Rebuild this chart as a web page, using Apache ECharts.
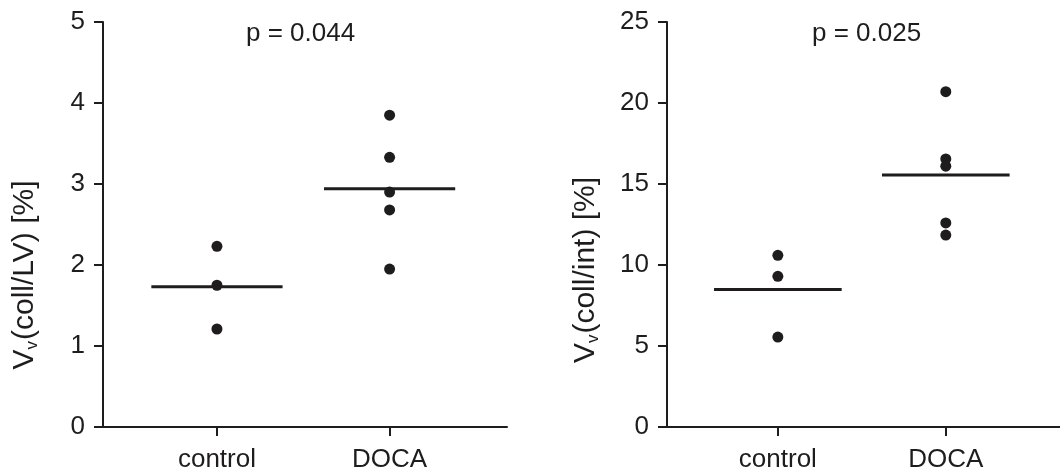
<!DOCTYPE html>
<html>
<head>
<meta charset="utf-8">
<script src="https://cdn.jsdelivr.net/npm/echarts@6/dist/echarts.min.js"></script>
<style>
  html, body { margin: 0; padding: 0; background: #fff; }
  #chart { width: 1060px; height: 474px; }
</style>
</head>
<body>
<div id="chart"></div>
<script>
// Groups shown on both panels
const groups = ['control', 'DOCA'];

// Left panel: Vv(coll/LV) [%]
const lvControl = [2.23, 1.75, 1.21];
const lvDoca = [3.85, 3.33, 2.90, 2.68, 1.95];
const lvTicks = [0, 1, 2, 3, 4, 5];
const lvP = 'p = 0.044';
const lvName = '(coll/LV) [%]';

// Right panel: Vv(coll/int) [%]
const intControl = [10.6, 9.3, 5.55];
const intDoca = [20.7, 16.55, 16.1, 12.6, 11.85];
const intTicks = [0, 5, 10, 15, 20, 25];
const intP = 'p = 0.025';
const intName = '(coll/int) [%]';

const ink = '#1e1c1d';
const font = 'Liberation Sans, Arial, sans-serif';
const halfBar = 0.38;

const mean = a => a.reduce((s, v) => s + v, 0) / a.length;

function dots(values, pos) {
  return values.map(v => [pos, v]);
}
function meanBar(values, pos) {
  const m = mean(values);
  return [[pos - halfBar, m], [pos + halfBar, m]];
}

function panelSeries(idx, ctrl, doca) {
  const base = { xAxisIndex: idx, yAxisIndex: idx, silent: true, animation: false };
  return [
    Object.assign({}, base, { type: 'scatter', symbol: 'circle', symbolSize: 11,
      itemStyle: { color: ink, opacity: 1 }, data: dots(ctrl, 1).concat(dots(doca, 2)) }),
    Object.assign({}, base, { type: 'line', symbol: 'none', z: 3,
      lineStyle: { color: ink, width: 3 }, data: meanBar(ctrl, 1) }),
    Object.assign({}, base, { type: 'line', symbol: 'none', z: 3,
      lineStyle: { color: ink, width: 3 }, data: meanBar(doca, 2) })
  ];
}

function xAxisFor(idx) {
  return {
    type: 'value', gridIndex: idx, min: 0.34, max: 2.68,
    splitLine: { show: false },
    axisLine: { show: true, lineStyle: { color: ink, width: 2 } },
    axisTick: { show: true, length: 9, customValues: [1, 2], lineStyle: { color: ink, width: 2 } },
    axisLabel: { customValues: [1, 2], margin: 20, color: ink, fontSize: 26, fontFamily: font,
      formatter: v => groups[Math.round(v) - 1] }
  };
}

function yAxisFor(idx, ticks) {
  return {
    type: 'value', gridIndex: idx,
    min: ticks[0], max: ticks[ticks.length - 1], interval: ticks[1] - ticks[0],
    splitLine: { show: false },
    axisLine: { show: true, lineStyle: { color: ink, width: 2 } },
    axisTick: { show: true, length: 9, lineStyle: { color: ink, width: 2 } },
    axisLabel: { margin: 18, color: ink, fontSize: 26, fontFamily: font }
  };
}

// Rotated axis title with a subscript "v"
function axisTitle(x, y, rest) {
  return {
    type: 'text', x: x, y: y, rotation: Math.PI / 2,
    style: {
      text: '{a|V}{s|v}{a|' + rest + '}',
      align: 'center', verticalAlign: 'middle',
      rich: {
        a: { fontSize: 30, fill: ink, fontFamily: font },
        s: { fontSize: 17, fill: ink, fontFamily: font, padding: [14, 1, 0, 0] }
      }
    }
  };
}

const chart = echarts.init(document.getElementById('chart'), null, { renderer: 'canvas' });
chart.setOption({
  backgroundColor: '#ffffff',
  animation: false,
  grid: [
    { left: 103, top: 22, width: 404, height: 405 },
    { left: 667, top: 22, width: 404, height: 405 }
  ],
  xAxis: [xAxisFor(0), xAxisFor(1)],
  yAxis: [yAxisFor(0, lvTicks), yAxisFor(1, intTicks)],
  graphic: [
    { type: 'text', left: 246, top: 21, style: { text: lvP, fontSize: 26, fontFamily: font, fill: ink } },
    { type: 'text', left: 812, top: 21, style: { text: intP, fontSize: 26, fontFamily: font, fill: ink } },
    axisTitle(25, 275, lvName),
    axisTitle(586, 270, intName)
  ],
  series: panelSeries(0, lvControl, lvDoca).concat(panelSeries(1, intControl, intDoca))
});
</script>
</body>
</html>
